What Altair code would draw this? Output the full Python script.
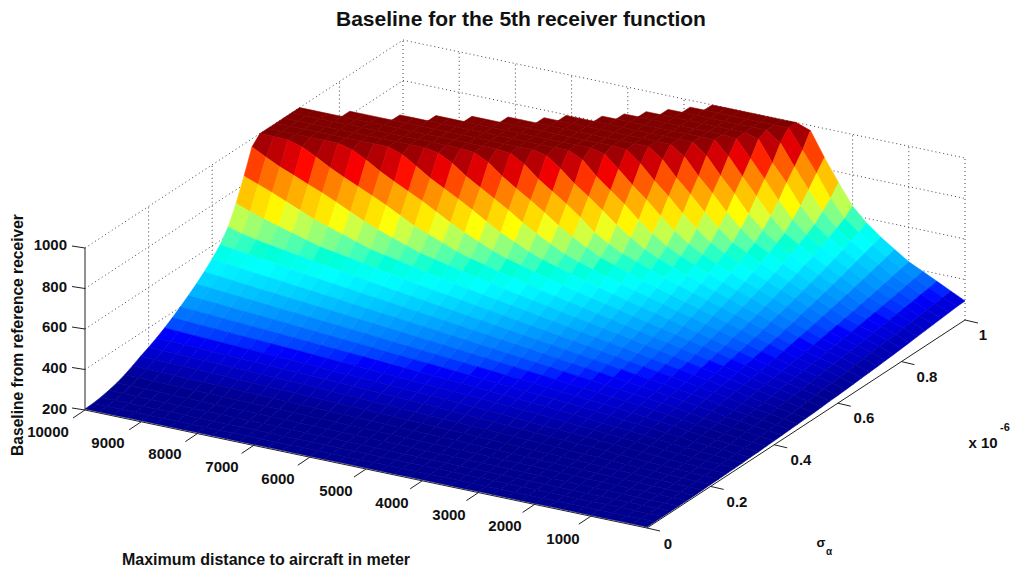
import altair as alt
import pandas as pd

# Baseline (m): one row per sigma step (0 .. 1e-6 in 40 steps),
# one column per distance step (0 .. 10000 m in 40 steps).  Rows stop where the surface stops.
baseline = [
    [205] * 41,
    [205] * 13 + [206] * 24 + [207] * 4,
    [205, 205, 205, 206, 206, 206, 206, 206, 206, 207, 207, 207, 207, 207, 207, 208, 208, 208, 208, 208, 208, 208, 209, 209, 209, 209, 209, 209, 210, 210, 210, 210, 210, 210, 211, 211, 211, 211, 211, 211, 212],
    [206, 206, 206, 206, 207, 207, 207, 208, 208, 208, 209, 209, 210, 210, 210, 211, 211, 211, 212, 212, 213, 213, 213, 214, 214, 214, 215, 215, 215, 216, 216, 217, 217, 217, 218, 218, 218, 219, 219, 220, 220],
    [206, 206, 207, 207, 208, 208, 209, 210, 210, 211, 212, 212, 213, 214, 214, 215, 216, 216, 217, 218, 218, 219, 220, 220, 221, 222, 222, 223, 224, 224, 225, 226, 226, 227, 228, 228, 229, 230, 230, 231, 231],
    [206, 207, 208, 209, 209, 210, 211, 212, 213, 215, 216, 217, 218, 219, 220, 221, 222, 223, 224, 225, 226, 227, 228, 229, 230, 231, 232, 233, 234, 235, 236, 237, 238, 239, 240, 241, 242, 243, 244, 245, 246],
    [207, 208, 209, 210, 211, 213, 214, 216, 217, 219, 220, 222, 223, 225, 226, 228, 229, 231, 232, 233, 235, 236, 238, 239, 241, 242, 244, 245, 247, 248, 250, 251, 253, 254, 256, 257, 259, 260, 262, 263, 265],
    [208, 209, 211, 212, 214, 216, 218, 220, 222, 224, 226, 228, 230, 232, 234, 236, 238, 240, 242, 244, 246, 248, 250, 252, 254, 256, 258, 260, 262, 264, 266, 268, 270, 272, 274, 276, 278, 280, 282, 284, 286],
    [209, 211, 212, 214, 216, 219, 221, 224, 227, 229, 232, 235, 237, 240, 242, 245, 248, 250, 253, 256, 258, 261, 263, 266, 269, 271, 274, 277, 279, 282, 284, 286, 288, 290, 292, 294, 296, 298, 300, 302, 304],
    [210, 212, 214, 217, 219, 222, 226, 229, 232, 236, 239, 242, 246, 249, 252, 256, 259, 262, 266, 269, 272, 276, 279, 282, 285, 288, 290, 293, 295, 298, 300, 303, 305, 308, 310, 312, 315, 317, 320, 322, 325],
    [211, 214, 217, 219, 222, 226, 231, 235, 239, 243, 247, 251, 255, 259, 263, 268, 272, 276, 280, 284, 287, 290, 293, 296, 299, 302, 305, 308, 311, 315, 318, 321, 324, 327, 330, 333, 336, 339, 342, 345, 348],
    [212, 216, 219, 222, 226, 231, 236, 241, 246, 251, 256, 261, 266, 271, 276, 281, 285, 289, 293, 296, 300, 304, 307, 311, 315, 318, 322, 326, 329, 333, 337, 341, 344, 348, 352, 355, 359, 363, 366, 370, 374],
    [213, 217, 222, 226, 230, 236, 242, 248, 254, 260, 265, 271, 277, 283, 288, 292, 297, 301, 305, 310, 314, 319, 323, 327, 332, 336, 341, 345, 349, 354, 358, 363, 367, 371, 376, 380, 385, 389, 393, 398, 402],
    [215, 220, 225, 229, 234, 241, 248, 255, 262, 269, 276, 283, 288, 294, 299, 304, 309, 314, 319, 324, 330, 335, 340, 345, 350, 355, 360, 366, 371, 376, 381, 386, 391, 397, 402, 407, 411, 416, 421, 426, 431],
    [216, 222, 228, 233, 239, 247, 255, 263, 271, 279, 286, 292, 298, 304, 310, 316, 322, 328, 334, 340, 346, 352, 358, 364, 370, 376, 382, 388, 394, 400, 406, 411, 417, 423, 428, 434, 440, 446, 451, 457, 463],
    [218, 224, 231, 237, 244, 253, 262, 272, 281, 289, 295, 302, 309, 316, 323, 330, 337, 343, 350, 357, 364, 371, 378, 385, 391, 398, 405, 411, 418, 425, 431, 438, 444, 451, 457, 464, 470, 477, 484, 490, 497],
    [220, 227, 235, 242, 249, 260, 270, 281, 290, 297, 305, 313, 321, 329, 336, 344, 352, 360, 368, 375, 383, 391, 399, 406, 414, 421, 429, 436, 443, 451, 458, 466, 473, 481, 488, 496, 503, 510, 518, 526, 535],
    [222, 230, 238, 247, 255, 267, 279, 289, 298, 307, 315, 324, 333, 342, 351, 359, 368, 377, 386, 395, 403, 412, 420, 429, 437, 445, 454, 462, 471, 479, 487, 496, 504, 513, 521, 531, 541, 551, 561, 570, 580],
    [224, 233, 242, 252, 261, 274, 287, 297, 307, 316, 326, 336, 346, 356, 366, 376, 385, 395, 405, 414, 424, 433, 443, 452, 462, 471, 481, 490, 499, 509, 518, 529, 540, 551, 562, 573, 584, 595, 607, 622, 641],
    [226, 236, 247, 257, 267, 282, 294, 305, 316, 327, 338, 349, 360, 371, 382, 393, 404, 414, 425, 435, 446, 456, 467, 477, 488, 498, 509, 519, 531, 543, 556, 568, 581, 593, 605, 623, 643, 663, 684, 706, 732],
    [228, 240, 251, 263, 274, 289, 301, 313, 326, 338, 350, 362, 374, 387, 399, 410, 422, 434, 445, 457, 469, 480, 492, 503, 515, 528, 541, 555, 569, 583, 596, 610, 633, 655, 678, 700, 730, 759, 789, 815, 841],
    [230, 243, 256, 269, 281, 295, 309, 322, 336, 349, 363, 376, 390, 403, 416, 428, 441, 454, 467, 480, 493, 505, 518, 533, 548, 563, 578, 593, 609, 632, 656, 681, 709, 741, 774, 805, 833, 862, 890, 924, 960],
    [233, 247, 261, 275, 287, 302, 317, 332, 346, 361, 376, 391, 404, 418, 432, 447, 461, 475, 489, 503, 517, 533, 550, 566, 584, 600, 621, 649, 676, 704, 740, 776, 809, 840, 871, 904, 943, 978, 997, 1000, 1000],
    [236, 251, 266, 281, 293, 310, 326, 342, 358, 374, 390, 405, 421, 436, 451, 467, 482, 497, 513, 530, 548, 567, 585, 603, 628, 658, 688, 723, 762, 800, 834, 868, 904, 946, 982] + [1000] * 6,
    [238, 255, 271, 287, 299, 317, 334, 352, 370, 387, 404, 421, 438, 455, 471, 488, 505, 522, 541, 561, 581, 601, 627, 660, 692, 732, 775, 814, 851, 888, 933, 977] + [1000] * 9,
    [241, 259, 277, 292, 306, 325, 344, 363, 382, 401, 419, 437, 455, 473, 492, 510, 529, 551, 572, 593, 618, 653, 689, 731, 777, 819, 860, 901, 951, 988] + [1000] * 11,
    [244, 263, 283, 298, 312, 333, 353, 374, 394, 414, 434, 454, 473, 493, 513, 534, 557, 581, 604, 638, 676, 719, 769, 815, 858, 904, 958, 993] + [1000] * 13,
    [247, 268, 288, 303, 319, 341, 363, 385, 407, 429, 450, 471, 492, 513, 537, 562, 587, 612, 646, 687, 748, 800, 847, 894, 953, 993] + [1000] * 15,
    [250, 273, 292, 309, 326, 350, 374, 398, 420, 443, 466, 489, 512, 537, 564, 591, 622, 667, 714, 772, 825, 875, 934, 986] + [1000] * 14,
    [253, 278, 297, 315, 333, 359, 384, 410, 434, 459, 483, 508, 534, 563, 592, 627, 674, 728, 791, 845, 900, 968] + [1000] * 13,
    [257, 283, 302, 322, 341, 368, 396, 422, 448, 474, 500, 527, 558, 589, 627, 677, 737, 802, 860, 924, 985] + [1000] * 12,
    [260, 287, 307, 328, 348, 378, 407, 435, 463, 491, 519, 551, 584, 622, 676, 739, 808, 870, 941, 996] + [1000] * 11,
    [264, 291, 313, 335, 357, 388, 418, 448, 478, 508, 540, 575, 611, 668, 734, 807, 873, 950] + [1000] * 11,
    [268, 295, 318, 342, 365, 398, 430, 462, 493, 525, 563, 600, 655, 722, 801, 871, 953] + [1000] * 10,
    [272, 300, 324, 349, 374, 408, 442, 476, 509, 547, 586, 636, 702, 787, 862, 947] + [1000] * 10,
    [276, 304, 330, 356, 382, 419, 455, 490, 526, 569, 611, 680, 764, 846, 933] + [1000] * 9,
    [280, 309, 336, 364, 391, 430, 467, 505, 547, 591, 652, 732, 823, 910, 994] + [1000] * 8,
    [284, 313, 342, 371, 400, 441, 480, 520, 565, 617, 694, 793, 878, 981] + [1000] * 8,
    [288, 318, 349, 380, 410, 452, 494, 539, 588, 655, 748, 847, 951] + [1000] * 8,
    [292, 323, 355, 388, 419, 464, 508, 557, 610, 695, 804, 904] + [1000] * 8,
    [294, 328, 362, 396, 429, 475, 522, 577, 646, 747, 856, 975] + [1000] * 7,
]
assert [len(r) for r in baseline] == [41] * 28 + [38, 35, 33, 31, 29, 27, 26, 24, 23, 22, 21, 20, 19]

N = 40
OX, OY = 8, 38


def proj(d, s, z):
    return (647 - 562 * d / 10000 + 318 * s - OX,
            528 - 118 * d / 10000 - 208 * s - (z - 200) * 0.2025 - OY)


features = []
for i in range(N - 1, -1, -1):
    for j in range(N - 1, -1, -1):
        if j + 1 >= len(baseline[i + 1]) or j + 1 >= len(baseline[i]):
            continue
        corners = [(i, j), (i + 1, j), (i + 1, j + 1), (i, j + 1)]
        zs = [baseline[a][b] for a, b in corners]
        pts = [proj(10000 * b / N, a / N, baseline[a][b]) for a, b in corners]
        ring = [list(p) for p in pts] + [list(pts[0])]
        features.append({"type": "Feature", "geometry": {"type": "Polygon", "coordinates": [ring]},
                         "properties": {"z": sum(zs) / 4}})

jet = ["#00008f", "#0000ff", "#00ffff", "#ffff00", "#ff0000", "#800000"]
ZMIN, ZMAX = 240, 1000
dom = [ZMIN + (ZMAX - ZMIN) * t for t in (0, 1 / 8, 3 / 8, 5 / 8, 7 / 8, 1)]
cs = alt.Scale(domain=dom, range=jet, clamp=True)
surface = alt.Chart(alt.Data(values=features)).mark_geoshape(strokeWidth=0.6).encode(
    fill=alt.Color("properties.z:Q", scale=cs, legend=None),
    stroke=alt.Color("properties.z:Q", scale=cs, legend=None),
).properties(projection=alt.Projection(type="identity", scale=1, translate=[0, 0]))

dist_ticks = [1000 * k for k in range(0, 11)]
sig_ticks = [0, .2, .4, .6, .8, 1]
z_ticks = [200, 400, 600, 800, 1000]


def rules(segs, **kw):
    df = pd.DataFrame([{"x": a[0], "y": a[1], "x2": b[0], "y2": b[1]} for a, b in segs])
    return alt.Chart(df).mark_rule(**kw).encode(
        x=alt.X("x:Q", scale=None, axis=None), y=alt.Y("y:Q", scale=None, axis=None),
        x2="x2:Q", y2="y2:Q")


grid = []
for z in z_ticks[1:]:
    grid.append((proj(10000, 0, z), proj(10000, 1, z)))
    grid.append((proj(10000, 1, z), proj(0, 1, z)))
for s in sig_ticks[1:]:
    grid.append((proj(10000, s, 200), proj(10000, s, 1000)))
for d in dist_ticks[:-1]:
    grid.append((proj(d, 1, 200), proj(d, 1, 1000)))
grid_l = rules(grid, color="#444444", strokeDash=[1, 3], strokeWidth=1)

axes_seg = [(proj(10000, 0, 200), proj(0, 0, 200)), (proj(0, 0, 200), proj(0, 1, 200)),
            (proj(10000, 0, 200), proj(10000, 0, 1000))]
for d in dist_ticks[1:]:
    p = proj(d, 0, 200)
    axes_seg.append((p, (p[0] - 12, p[1] + 8)))
for s in sig_ticks:
    p = proj(0, s, 200)
    axes_seg.append((p, (p[0] + 13, p[1] + 3)))
for z in z_ticks:
    p = proj(10000, 0, z)
    axes_seg.append((p, (p[0] - 13, p[1] - 2)))
axes_l = rules(axes_seg, color="#222222", strokeWidth=1)

FONT = "Liberation Sans"


def texts(rows, size=15, **kw):
    df = pd.DataFrame([{"x": x - OX, "y": y - OY, "t": t} for x, y, t in rows])
    return alt.Chart(df).mark_text(font=FONT, fontWeight="bold", fontSize=size, color="#111111",
                                   baseline="middle", **kw).encode(
        x=alt.X("x:Q", scale=None, axis=None), y=alt.Y("y:Q", scale=None, axis=None), text="t:N")


dist_labels = ["10000", "9000", "8000", "7000", "6000", "5000", "4000", "3000", "2000", "1000"]
dist_pos = [(48, 432), (108, 443), (165, 454), (222, 467), (278, 479), (336, 491), (392, 503), (449, 515), (505, 526), (563, 539)]
sig_labels = ["0", "0.2", "0.4", "0.6", "0.8", "1"]
sig_pos = [(668, 544), (737, 502), (801, 460), (864, 418), (927, 377), (983, 335)]
z_labels = ["200", "400", "600", "800", "1000"]
z_pos = [409, 368, 327, 287, 245]

layers = [grid_l, surface, axes_l,
          texts([(x, y, t) for (x, y), t in zip(dist_pos, dist_labels)], align="center"),
          texts([(x, y, t) for (x, y), t in zip(sig_pos, sig_labels)], align="center"),
          texts([(67, y, t) for y, t in zip(z_pos, z_labels)], align="right"),
          texts([(266, 560, "Maximum distance to aircraft in meter")], size=16, align="center"),
          texts([(983, 443, "x 10")], size=15, align="center"),
          texts([(1005, 428, "-6")], size=11, align="center"),
          texts([(18, 335, "Baseline from reference receiver")], size=15.6, align="center", angle=270),
          texts([(821, 543, "σ")], size=13, align="center"),
          texts([(829, 552, "α")], size=10, align="center"),
          ]
chart = alt.layer(*layers).properties(
    width=1002, height=529,
    padding={"left": 0, "top": 30, "right": 0, "bottom": 0},
    autosize=alt.AutoSizeParams(type="none"),
    title=alt.TitleParams("Baseline for the 5th receiver function", font=FONT, fontWeight="bold",
                          fontSize=21, anchor="start", dx=328, offset=8, color="#111111"),
).configure_view(stroke=None)
chart.save("out.html", embed_options={"renderer": "svg", "actions": False})
